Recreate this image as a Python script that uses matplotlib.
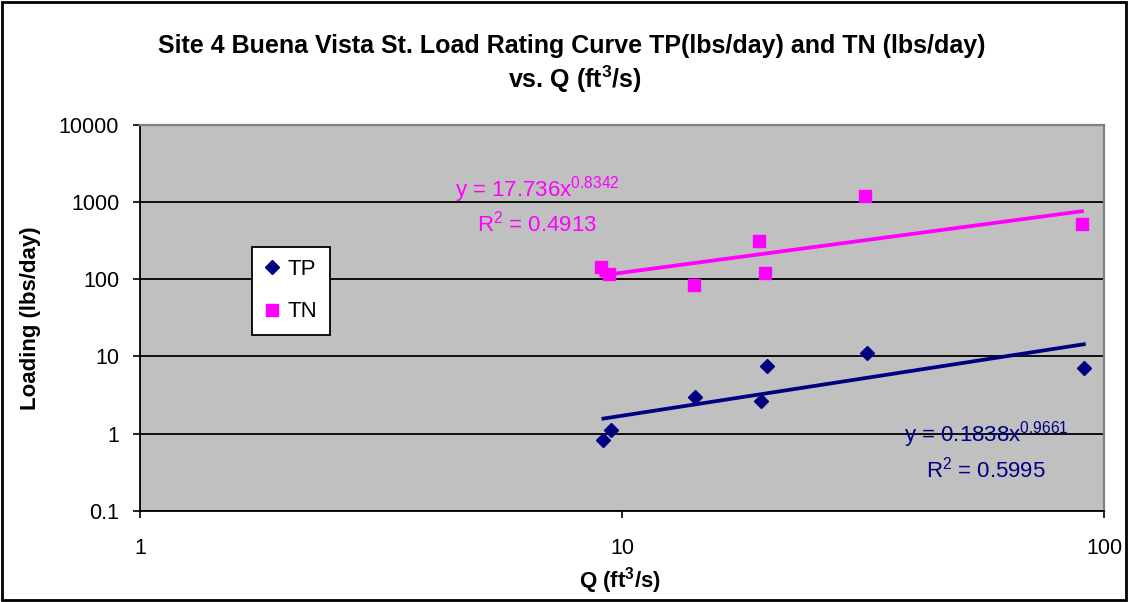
import numpy as np
import matplotlib
matplotlib.use('Agg')
import matplotlib.pyplot as plt

plt.rcParams['font.family'] = ['Liberation Sans', 'DejaVu Sans']
plt.rcParams['mathtext.default'] = 'regular'

# data
tp_q = [9.15, 9.5, 14.2, 19.4, 20.0, 32.3, 90.8]
tp_load = [0.82, 1.1, 3.0, 2.6, 7.4, 10.9, 6.95]
tn_q = [9.06, 9.42, 14.1, 19.2, 19.8, 32.0, 90.0]
tn_load = [145, 115, 85, 310, 120, 1175, 510]

# power trendlines as printed on the chart
tp_coef, tp_exp, tp_r2 = 0.1838, 0.9661, 0.5995
tn_coef, tn_exp, tn_r2 = 17.736, 0.8342, 0.4913

tp_color = '#000080'
tn_color = '#FF00FF'

fig = plt.figure(figsize=(11.28, 6.02), dpi=100)
ax = fig.add_axes([140 / 1128, 1 - 510.7 / 602, 964 / 1128, 386 / 602])
ax.set_facecolor('#C0C0C0')
ax.set_xscale('log')
ax.set_yscale('log')
ax.set_xlim(1, 100)
ax.set_ylim(0.1, 10000)

ax.set_yticks([0.1, 1, 10, 100, 1000, 10000])
ax.set_yticklabels(['0.1', '1', '10', '100', '1000', '10000'])
ax.set_xticks([1, 10, 100])
ax.set_xticklabels(['1', '10', '100'])
ax.minorticks_off()
ax.tick_params(axis='both', labelsize=15.5, length=5, width=1.2, direction='out', color='black')
ax.tick_params(axis='y', pad=10)
ax.tick_params(axis='x', pad=15)
ax.grid(axis='y', color='black', linewidth=1.3)
ax.set_axisbelow(True)
for side in ['top', 'right']:
    ax.spines[side].set_color('#808080')
    ax.spines[side].set_linewidth(1.6)
for side in ['left', 'bottom']:
    ax.spines[side].set_color('black')
    ax.spines[side].set_linewidth(1.3)

# trendlines
xs = np.geomspace(min(tp_q), max(tp_q), 200)
ax.plot(xs, tp_coef * xs ** tp_exp, color=tp_color, linewidth=2.7, zorder=3)
xs = np.geomspace(min(tn_q), max(tn_q), 200)
ax.plot(xs, tn_coef * xs ** tn_exp, color=tn_color, linewidth=2.7, zorder=3)

ax.plot(tp_q, tp_load, linestyle='None', marker='D', markersize=7.5,
        color=tp_color, label='TP', zorder=4)
ax.plot(tn_q, tn_load, linestyle='None', marker='s', markersize=8,
        color=tn_color, label='TN', zorder=4)

leg = ax.legend(loc='upper left', bbox_to_anchor=(252 / 1128, 1 - 247 / 602),
                bbox_transform=fig.transFigure, fontsize=16,
                frameon=True, fancybox=False, edgecolor='black', framealpha=1,
                handlelength=0.7, handletextpad=0.35, borderpad=0.55,
                labelspacing=0.95, borderaxespad=0)
leg.get_frame().set_linewidth(1.3)

# equation labels
ax.text(6.66, 1175, 'y = %.3fx$^{%.4f}$' % (tn_coef, tn_exp), color=tn_color,
        fontsize=16, ha='center', va='baseline')
ax.text(6.66, 414, 'R$^{2}$ = %.4f' % tn_r2, color=tn_color,
        fontsize=16, ha='center', va='baseline')
ax.text(56.9, 0.787, 'y = %.4fx$^{%.4f}$' % (tp_coef, tp_exp), color=tp_color,
        fontsize=16, ha='center', va='baseline')
ax.text(57.0, 0.269, 'R$^{2}$ = %.4f' % tp_r2, color=tp_color,
        fontsize=16, ha='center', va='baseline')

fig.text(572 / 1128, 1 - 46 / 602,
         'Site 4 Buena Vista St. Load Rating Curve TP(lbs/day) and TN (lbs/day)',
         ha='center', va='center', fontsize=18, fontweight='bold')
fig.text(575 / 1128, 1 - 79 / 602, 'vs. Q (ft$^{3}$/s)', ha='center', va='center',
         fontsize=18, fontweight='bold')
fig.text(620 / 1128, 1 - 581 / 602, 'Q (ft$^{3}$/s)', ha='center', va='center',
         fontsize=16, fontweight='bold')
fig.text(31 / 1128, 1 - 318 / 602, 'Loading (lbs/day)', ha='center', va='center',
         rotation=90, fontsize=16, fontweight='bold')

# outer chart border
fig.patches.append(plt.Rectangle((0.002, 0.003), 0.996, 0.994, transform=fig.transFigure,
                                 fill=False, edgecolor='black', linewidth=2))

fig.savefig('out.png', dpi=100)
